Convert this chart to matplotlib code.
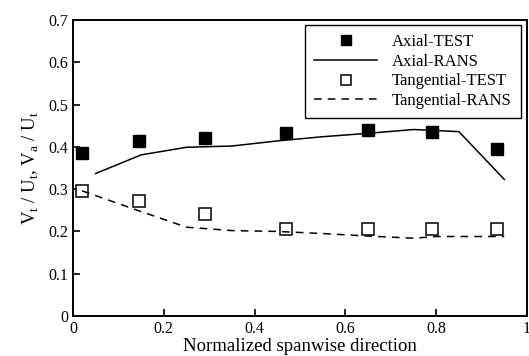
import numpy as np
import matplotlib
matplotlib.use("Agg")
import matplotlib.pyplot as plt

plt.rcParams['font.family'] = ['Liberation Serif', 'DejaVu Serif']
plt.rcParams['mathtext.fontset'] = 'custom'
plt.rcParams['mathtext.rm'] = 'Liberation Serif'

# measured points
x_test = [0.02, 0.145, 0.29, 0.47, 0.65, 0.79, 0.935]
axial_test = [0.385, 0.413, 0.422, 0.432, 0.44, 0.435, 0.395]
tang_test = [0.296, 0.273, 0.242, 0.205, 0.205, 0.206, 0.205]

# RANS curves
x_axial_rans = [0.05, 0.15, 0.25, 0.35, 0.45, 0.55, 0.65, 0.75, 0.85, 0.95]
axial_rans = [0.337, 0.381, 0.399, 0.402, 0.414, 0.424, 0.432, 0.441, 0.436, 0.323]
x_tang_rans = [0.02, 0.15, 0.25, 0.35, 0.45, 0.55, 0.65, 0.75, 0.8, 0.95]
tang_rans = [0.296, 0.247, 0.21, 0.202, 0.2, 0.195, 0.189, 0.184, 0.188, 0.188]

fig = plt.figure(figsize=(5.29, 3.56), dpi=100)
ax = fig.add_axes([73/529, 40/356, 454/529, 296/356])

ax.plot(x_test, axial_test, 's', color='black', markersize=8.5, label='Axial-TEST')
ax.plot(x_axial_rans, axial_rans, '-', color='black', linewidth=1.1, label='Axial-RANS')
ax.plot(x_test, tang_test, 's', color='black', markerfacecolor='white',
        markeredgewidth=1.1, markersize=8.5, label='Tangential-TEST')
ax.plot(x_tang_rans, tang_rans, '--', color='black', linewidth=1.1,
        dashes=(5, 4), label='Tangential-RANS')

ax.set_xlim(0, 1)
ax.set_ylim(0, 0.7)
ax.set_xticks([0, 0.2, 0.4, 0.6, 0.8, 1])
ax.set_xticklabels(['0', '0.2', '0.4', '0.6', '0.8', '1'])
ax.set_yticks([0, 0.1, 0.2, 0.3, 0.4, 0.5, 0.6, 0.7])
ax.set_yticklabels(['0', '0.1', '0.2', '0.3', '0.4', '0.5', '0.6', '0.7'])
ax.tick_params(direction='in', length=5, width=1.2, labelsize=11.5)
for s in ax.spines.values():
    s.set_linewidth(1.4)

ax.set_xlabel('Normalized spanwise direction', fontsize=13.5, labelpad=1)
ax.set_ylabel(r'V$_\mathregular{t}$ / U$_\mathregular{t}$, V$_\mathregular{a}$ / U$_\mathregular{t}$',
              fontsize=13.5, labelpad=5)

leg = ax.legend(loc='upper right', fontsize=12, frameon=True, fancybox=False,
                edgecolor='black', framealpha=1, handlelength=3.8,
                borderpad=0.55, labelspacing=0.22, markerscale=0.85,
                handletextpad=0.9, borderaxespad=0.3,
                bbox_to_anchor=(0.998, 1.0))
leg.get_frame().set_linewidth(1.0)

fig.savefig('out.png', dpi=100)
